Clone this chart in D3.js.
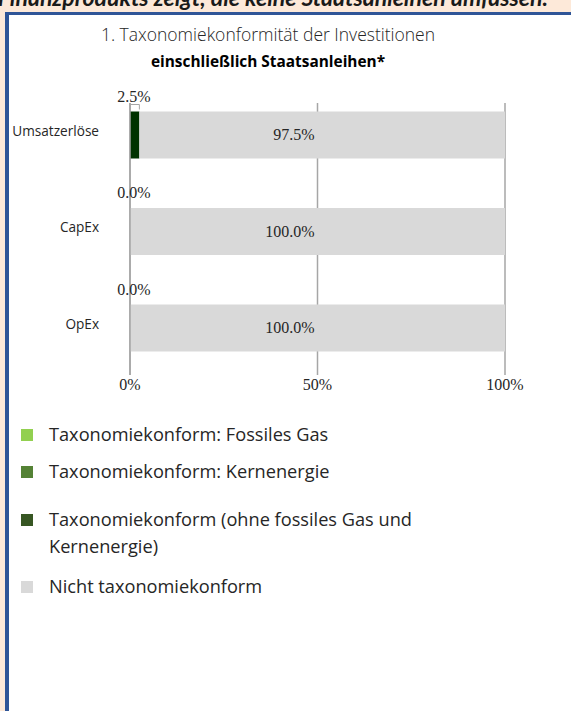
<!DOCTYPE html>
<html>
<head>
<meta charset="utf-8">
<script src="https://cdn.jsdelivr.net/npm/d3@7"></script>
<style>
  html, body { margin: 0; padding: 0; background: #fde9d9; }
  svg { display: block; }
</style>
</head>
<body>
<svg id="chart" width="571" height="711"></svg>
<script>
// Chart data
const categories = ['Umsatzerlöse', 'CapEx', 'OpEx'];
const fossilGas = [0, 0, 0];
const nuclear = [0, 0, 0];
const alignedOther = [2.5, 0, 0];
const notAligned = [97.5, 100, 100];
const xTicks = [0, 50, 100];

const legendItems = [
    { lines: ['Taxonomiekonform: Fossiles Gas'], color: '#92d050' },
    { lines: ['Taxonomiekonform: Kernenergie'], color: '#548235' },
    { lines: ['Taxonomiekonform (ohne fossiles Gas und', 'Kernenergie)'], color: '#375623' },
    { lines: ['Nicht taxonomiekonform'], color: '#d9d9d9' },
];

const SANS = '"Open Sans", Lato, sans-serif';
const SERIF = '"Liberation Serif", "DejaVu Serif", serif';

const svg = d3.select('#chart');

// Frame: peach strip, blue border, white panel
svg.append('rect').attr('x', 0).attr('y', 0).attr('width', 571).attr('height', 711).attr('fill', '#fde9d9');
svg.append('text')
    .attr('x', 548).attr('y', 6)
    .attr('text-anchor', 'end')
    .attr('font-family', 'Lato, sans-serif').attr('font-size', 23)
    .attr('font-weight', 'bold').attr('font-style', 'italic')
    .attr('fill', '#1a1a1a')
    .text('Finanzprodukts zeigt, die keine Staatsanleihen umfassen.');
svg.append('rect').attr('x', 5).attr('y', 12).attr('width', 566).attr('height', 699).attr('fill', '#2f5597');
svg.append('rect').attr('x', 9).attr('y', 15).attr('width', 562).attr('height', 696).attr('fill', '#ffffff');

// Title
svg.append('text')
    .attr('x', 268).attr('y', 41)
    .attr('text-anchor', 'middle')
    .attr('font-family', SANS).attr('font-size', 17.5).attr('font-weight', 300)
    .attr('fill', '#262626')
    .text('1. Taxonomiekonformität der Investitionen');
svg.append('text')
    .attr('x', 268).attr('y', 67)
    .attr('text-anchor', 'middle')
    .attr('font-family', SANS).attr('font-size', 15.4).attr('font-weight', 'bold')
    .attr('fill', '#000000')
    .text('einschließlich Staatsanleihen*');

// Scales
const x = d3.scaleLinear().domain([0, 100]).range([130, 505]);
const y = d3.scaleBand().domain(categories).range([62, 401]).paddingInner(0.513).paddingOuter(0.513);

// Gridlines
svg.append('g')
    .selectAll('line')
    .data(xTicks)
    .join('line')
    .attr('x1', d => x(d)).attr('x2', d => x(d))
    .attr('y1', 103).attr('y2', 375)
    .attr('stroke', '#a6a6a6')
    .attr('stroke-width', 1.5);

// Stacked bars
const seriesKeys = ['fossilGas', 'nuclear', 'alignedOther', 'notAligned'];
const seriesColors = { fossilGas: '#92d050', nuclear: '#548235', alignedOther: '#003300', notAligned: '#d9d9d9' };
const rows = categories.map((c, i) => ({
    category: c,
    fossilGas: fossilGas[i],
    nuclear: nuclear[i],
    alignedOther: alignedOther[i],
    notAligned: notAligned[i],
}));
const stacked = d3.stack().keys(seriesKeys)(rows);

svg.append('g')
    .selectAll('g')
    .data(stacked)
    .join('g')
    .attr('fill', d => seriesColors[d.key])
    .selectAll('rect')
    .data(d => d)
    .join('rect')
    .attr('x', d => x(d[0]))
    .attr('y', d => y(d.data.category))
    .attr('width', d => x(d[1]) - x(d[0]))
    .attr('height', y.bandwidth());

// Redraw the 0% axis line over the bars
svg.append('line')
    .attr('x1', x(0)).attr('x2', x(0))
    .attr('y1', 103).attr('y2', 375)
    .attr('stroke', '#a6a6a6').attr('stroke-width', 1.5);

// Data labels: aligned (above bar), not aligned (inside bar)
const alignedStack = stacked.find(s => s.key === 'alignedOther');
alignedStack.forEach(d => {
    const top = y(d.data.category);
    svg.append('text')
        .attr('x', x(d[0]) + 4).attr('y', top - 10)
        .attr('text-anchor', 'middle')
        .attr('font-family', SERIF).attr('font-size', 16)
        .attr('fill', '#262626')
        .text(d3.format('.1f')(d[1] - d[0]) + '%');
    if (d[1] - d[0] > 0) {
        svg.append('path')
            .attr('d', `M${x(d[0])},${top - 2} V${top - 7} H${x(d[1])} V${top - 2}`)
            .attr('fill', 'none')
            .attr('stroke', '#a6a6a6')
            .attr('stroke-width', 1);
    }
});

const notStack = stacked.find(s => s.key === 'notAligned');
svg.append('g')
    .selectAll('text')
    .data(notStack)
    .join('text')
    .attr('x', x(50) - 3)
    .attr('y', d => y(d.data.category) + y.bandwidth() / 2 + 5)
    .attr('text-anchor', 'end')
    .attr('font-family', SERIF).attr('font-size', 16)
    .attr('fill', '#262626')
    .text(d => d3.format('.1f')(d[1] - d[0]) + '%');

// Category labels
svg.append('g')
    .selectAll('text')
    .data(categories)
    .join('text')
    .attr('x', 99)
    .attr('y', d => y(d) + y.bandwidth() / 2)
    .attr('dy', '0.05em')
    .attr('text-anchor', 'end')
    .attr('font-family', SANS).attr('font-size', 13.6)
    .attr('fill', '#262626')
    .text(d => d);

// X tick labels
svg.append('g')
    .selectAll('text')
    .data(xTicks)
    .join('text')
    .attr('x', d => x(d))
    .attr('y', 390)
    .attr('text-anchor', 'middle')
    .attr('font-family', SERIF).attr('font-size', 16)
    .attr('fill', '#262626')
    .text(d => d + '%');

// Legend
const legendY = [435, 472, 520, 587];
const legend = svg.append('g')
    .selectAll('g')
    .data(legendItems)
    .join('g')
    .attr('transform', (d, i) => `translate(21,${legendY[i]})`);
legend.append('rect')
    .attr('x', 0).attr('y', -6)
    .attr('width', 12).attr('height', 12)
    .attr('fill', d => d.color);
legend.append('text')
    .attr('font-family', SANS).attr('font-size', 18.2)
    .attr('fill', '#262626')
    .selectAll('tspan')
    .data(d => d.lines)
    .join('tspan')
    .attr('x', 28)
    .attr('y', (d, i) => 6 + i * 27)
    .text(d => d);
</script>
</body>
</html>
